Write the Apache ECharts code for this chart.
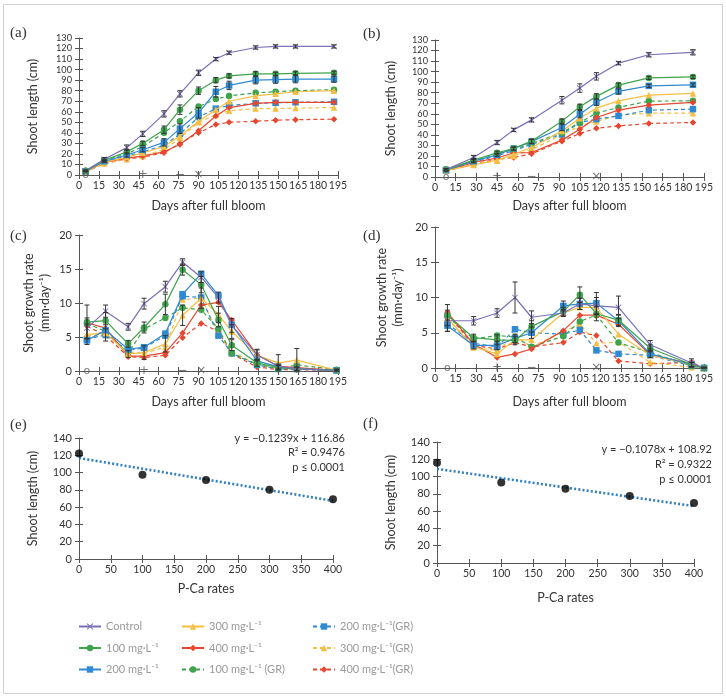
<!DOCTYPE html>
<html><head><meta charset="utf-8">
<script src="https://cdn.jsdelivr.net/npm/echarts@6/dist/echarts.min.js"></script>
<style>html,body{margin:0;padding:0;background:#fff}#c{width:726px;height:696px}</style>
</head><body><div id="c"></div>
<script>
// ---------- DATA ----------
const seriesNames = ['Control','100 mg·L⁻¹','200 mg·L⁻¹','300 mg·L⁻¹','400 mg·L⁻¹','100 mg·L⁻¹ (GR)','200 mg·L⁻¹(GR)','300 mg·L⁻¹(GR)','400 mg·L⁻¹(GR)'];
const xTicksDays = [0,195,15];
const xTicksRates = [0,400,50];

const daysA = [5,19,36,48,64,76,90,103,113,133,148,163,192];
const aControl = [4,15,26,39,58,77,97,110,116,121,122,122,122];
const a100 = [4,14,22,30,43,62,80,90,94,96,96,96.5,97];
const a200 = [3.5,13,19,24,31,44,59,79,85,90,90.5,91,91];
const a300 = [3,12,17,21,27,37,51,62,70,75,77,79,80];
const a400 = [3,12,16,18,22,29,42,56,64,68,69,69,69];
const a100GR = [4,14,20,27,40,51,65,72,75,78,79,80,81];
const a200GR = [3.5,13,18,22,28,39,55,63,66,68,68.5,69,69.5];
const a300GR = [3,11,15,18,24,35,50,57,61,63,63,63.5,64];
const a400GR = [3,11,15,17,21,30,40,48,50,51,52,52.5,53];
const aErrControl = [0.8,1.5,2.5,2.5,3,3,2.5,1.5,1.5,1.5,1.5,1.5,1.5];
const aErr100 = [0.5,1,2,2,3.5,4.5,3.5,2.5,2,2,1.5,1.5,1.5];
const aErr200 = [0.5,1,2,2,3.5,4.5,5,5,4,3.5,3.5,3.5,3];

const daysB = [8,28,45,57,70,92,105,117,133,155,187];
const bControl = [7,18.5,32.7,44.7,54.2,72.9,84.4,95.5,108,116,118.3];
const b100 = [7,16,23,27,34,53,66.6,76.5,87.2,94,95];
const b200 = [6.5,15,21,27,33.6,47,59.6,71,81.2,86.5,87.5];
const b300 = [6,11.5,16,21.6,28,43.7,55.8,65.3,72.3,77.7,79.3];
const b400 = [6,13.8,18,23,23.2,35,45.4,56.5,63.4,68.2,70.8];
const b100GR = [7,15,22,26,32,42,51.7,60.6,66,72,72.3];
const b200GR = [6.5,14,20,25,31,40.5,51.7,54.9,58,63.4,64.4];
const b300GR = [6,12,15.5,20,26,40,48.5,52.7,58.6,60.6,60.6];
const b400GR = [6,12,17,18.5,22,34,41.3,46.3,48.5,50.8,51.7];
const bErrControl = [1,2,2,1.5,2,3.5,4,3.5,1.5,2,2.5];
const bErr100 = [1,1.5,1.5,1.5,2,2,2.5,2.5,2,1.5,1.5];
const bErr200 = [1,1.5,1.5,1.5,2,3,3.5,3,2.5,1.5,1.5];

const daysC = [6,20,37,49,65,78,92,105,115,134,150,164,194];
const cControl = [6.3,8.8,6.5,9.9,12.4,16.0,13.8,10.8,6.7,2.4,0.7,0.3,0.1];
const c100 = [7.2,7.4,4.0,6.4,9.8,14.9,12.7,7.5,3.8,1.2,0.5,0.3,0.1];
const c200 = [4.5,6.0,3.2,3.5,5.5,11.3,14.3,11.1,6.8,1.5,0.6,0.3,0.1];
const c300 = [5.4,5.6,2.5,2.7,4.0,8.2,10.7,8.3,5.8,2.3,1.2,1.6,0.1];
const c400 = [7.1,6.3,2.2,2.2,2.7,5.6,9.7,10.1,7.5,2.4,0.7,0.5,0.1];
const c100GR = [7.0,5.8,2.6,6.2,7.8,9.3,9.0,6.2,2.6,1.0,0.3,0.9,0.2];
const c200GR = [4.7,5.3,3.0,3.4,5.2,11.0,10.8,5.2,2.6,0.9,0.3,0.3,0.1];
const c300GR = [5.2,5.4,2.8,2.6,3.5,10.5,10.7,5.5,2.8,1.0,0.4,0.3,0.1];
const c400GR = [6.6,5.2,2.1,2.0,2.3,4.9,7.0,5.8,2.5,0.6,0.2,0.2,0.1];
const cErrControl = [1.5,0.9,0.5,0.8,0.8,0.5,0.8,0.8,1,0.8,0.3,0.2,0.1];
const cErr100 = [2.5,1.2,0.5,0.8,1.5,0.8,1.2,1.0,0.8,0.5,0.3,0.3,0.1];
const cErr300 = [1.5,1.2,0.5,1,1.2,1.5,1.5,1.2,1.0,0.8,1.2,1.7,0.2];

const daysD = [9,28,45,58,70,93,105,117,133,156,186,195];
const dControl = [6.7,6.7,7.8,10.0,7.2,7.8,9.1,8.8,8.6,3.3,0.7,0];
const d100 = [7.5,4.3,4.0,3.9,5.9,8.0,10.4,7.7,6.8,2.8,0.5,0];
const d200 = [6.0,3.2,3.2,4.2,5.0,8.8,9.1,9.2,6.7,2.0,0.5,0];
const d300 = [7.1,3.0,2.0,4.0,4.0,7.8,8.6,8.6,4.8,1.8,0.5,0];
const d400 = [7.9,3.4,1.5,2.0,2.7,5.3,7.5,7.5,6.2,1.9,0.6,0];
const d100GR = [7.3,4.1,4.6,4.4,3.0,4.5,6.6,7.5,3.6,2.2,0.3,0];
const d200GR = [6.3,3.5,3.0,5.5,5.0,4.8,5.4,2.5,2.0,1.8,0.3,0];
const d300GR = [7.0,2.9,2.5,4.5,3.0,5.2,6.2,3.5,3.7,0.8,0.1,0];
const d400GR = [7.7,3.2,2.7,3.6,3.0,3.6,5.1,4.6,1.0,0.6,0.8,0];
const dErrControl = [1.5,0.6,0.6,2.2,0.9,0.5,0.8,1.2,1.6,0.6,0.6,0.1];
const dErr100 = [1.5,0.5,0.7,0.6,0.8,0.6,1.1,1.0,0.8,0.5,0.3,0.1];
const dErr200 = [0.8,0.5,0.6,0.6,0.8,0.7,0.8,1.5,0.8,0.5,0.3,0.1];

const sigMarks = ['o','+','−','×'];
const sigA = [5,48,76,90];
const sigB = [8,45,70,117];
const sigC = [6,49,78,92];
const sigD = [9,45,70,117];

const ratesE = [0,100,200,300,400];
const lengthE = [122,97.5,91.5,80,69];
const trendE = {slope:-0.1239, intercept:116.86, r2:'0.9476', p:'0.0001'};
const ratesF = [0,100,200,300,400];
const lengthF = [116,93,86,77.5,69.5];
const trendF = {slope:-0.1078, intercept:108.92, r2:'0.9322', p:'0.0001'};

// ---------- STYLE ----------
const F = 'Lato';
const colors = ['#7b70b6','#3ea34c','#2f8ad1','#f5bf45','#e6472f','#3ea34c','#2f8ad1','#f5bf45','#e6472f'];
const xSym = 'path://M1,0 L5,4 L9,0 L10,1 L6,5 L10,9 L9,10 L5,6 L1,10 L0,9 L4,5 L0,1 Z';
const symbols = [xSym,'circle','rect','triangle','diamond','circle','rect','triangle','diamond'];
const dashed = [false,false,false,false,false,true,true,true,true];

const grids = [
  {left:79, top:38, width:259, height:137},
  {left:435, top:40, width:269, height:137},
  {left:79, top:235, width:259, height:136},
  {left:435, top:227, width:269, height:141},
  {left:79, top:438, width:254, height:121},
  {left:437, top:442, width:257, height:121}
];
const xAxes = [], yAxes = [];
const lineC = '#555';
function addAxes(gi, xr, yr, xname, xgap, yname, ygap, yfs){
  const lab = {color:'#333', fontFamily:F, hideOverlap:false, showMinLabel:true, showMaxLabel:true};
  xAxes.push({gridIndex:gi, type:'value', position:'bottom', min:xr[0], max:xr[1], interval:xr[2],
    name:xname, nameLocation:'middle', nameGap:xgap, nameTextStyle:{fontSize:12.5, color:'#333', fontFamily:F},
    splitLine:{show:false}, axisLine:{show:true, onZero:false, lineStyle:{color:lineC}},
    axisTick:{show:true, length:4, lineStyle:{color:lineC}}, axisLabel:Object.assign({margin:5, fontSize:10.5}, lab)});
  xAxes.push({gridIndex:gi, type:'value', position:'bottom', min:xr[0], max:xr[1], interval:xr[2],
    splitLine:{show:false}, axisLine:{show:false}, axisTick:{show:true, inside:true, length:4, lineStyle:{color:lineC}}, axisLabel:{show:false}});
  yAxes.push({gridIndex:gi, type:'value', position:'left', min:yr[0], max:yr[1], interval:yr[2],
    name:yname, nameLocation:'middle', nameGap:ygap, nameTextStyle:{fontSize:12.5, color:'#333', fontFamily:F, lineHeight:16},
    splitLine:{show:false}, axisLine:{show:true, lineStyle:{color:lineC}},
    axisTick:{show:true, length:4, lineStyle:{color:lineC}}, axisLabel:Object.assign({margin:7, fontSize:yfs, lineHeight:8}, lab)});
  yAxes.push({gridIndex:gi, type:'value', position:'left', min:yr[0], max:yr[1], interval:yr[2],
    splitLine:{show:false}, axisLine:{show:false}, axisTick:{show:true, inside:true, length:4, lineStyle:{color:lineC}}, axisLabel:{show:false}});
}
addAxes(0, xTicksDays, [0,130,10], 'Days after full bloom', 24, 'Shoot length (cm)', 38, 9.2);
addAxes(1, xTicksDays, [0,130,10], 'Days after full bloom', 22, 'Shoot length (cm)', 36, 9.2);
addAxes(2, xTicksDays, [0,20,5], 'Days after full bloom', 24, 'Shoot growth rate\n(mm·day⁻¹)', 26, 11);
addAxes(3, xTicksDays, [0,20,5], 'Days after full bloom', 27, 'Shoot growth rate\n(mm·day⁻¹)', 29, 11);
addAxes(4, xTicksRates, [0,140,20], 'P-Ca rates', 23, 'Shoot length (cm)', 38, 11);
addAxes(5, xTicksRates, [0,140,20], 'P-Ca rates', 28, 'Shoot length (cm)', 38, 11);

const series = [];
function errRender(params, api){
  const x = api.value(0), y = api.value(1), e = api.value(2);
  const p1 = api.coord([x, y + e]), p2 = api.coord([x, Math.max(0, y - e)]);
  const w = 2.5, st = {stroke:'#333', lineWidth:1};
  return {type:'group', children:[
    {type:'line', shape:{x1:p1[0], y1:p1[1], x2:p2[0], y2:p2[1]}, style:st},
    {type:'line', shape:{x1:p1[0]-w, y1:p1[1], x2:p1[0]+w, y2:p1[1]}, style:st},
    {type:'line', shape:{x1:p2[0]-w, y1:p2[1], x2:p2[0]+w, y2:p2[1]}, style:st}
  ]};
}
function addPanel(gi, days, sets, errs, sig){
  sets.forEach((vals, k) => {
    series.push({name:seriesNames[k], type:'line', xAxisIndex:2*gi, yAxisIndex:2*gi,
      data: days.map((d,i) => [d, vals[i]]), symbol:symbols[k], symbolSize: k===0 ? 6 : 6.5,
      lineStyle:{width:1.2, type: dashed[k] ? [4,3] : 'solid', color:colors[k]},
      itemStyle:{color:colors[k]}, z: 3 + (8-k)*0.01, animation:false});
  });
  Object.keys(errs).forEach(k => {
    const vals = sets[k], e = errs[k];
    series.push({name:seriesNames[k], type:'custom', xAxisIndex:2*gi, yAxisIndex:2*gi,
      renderItem:errRender, encode:{x:0, y:1}, z:4, animation:false,
      data: days.map((d,i) => [d, vals[i], e[i]])});
  });
  series.push({type:'scatter', xAxisIndex:2*gi, yAxisIndex:2*gi, symbolSize:1, z:6,
    itemStyle:{color:'transparent'}, silent:true, animation:false,
    data: sig.map((d,i) => ({value:[d,0], label:{show:true, position:'inside', formatter:sigMarks[i],
      fontSize: i===0 ? 11 : 12, color:'#555', fontFamily:'DejaVu Sans'}}))});
}
addPanel(0, daysA, [aControl,a100,a200,a300,a400,a100GR,a200GR,a300GR,a400GR], {0:aErrControl,1:aErr100,2:aErr200}, sigA);
addPanel(1, daysB, [bControl,b100,b200,b300,b400,b100GR,b200GR,b300GR,b400GR], {0:bErrControl,1:bErr100,2:bErr200}, sigB);
addPanel(2, daysC, [cControl,c100,c200,c300,c400,c100GR,c200GR,c300GR,c400GR], {0:cErrControl,1:cErr100,3:cErr300}, sigC);
addPanel(3, daysD, [dControl,d100,d200,d300,d400,d100GR,d200GR,d300GR,d400GR], {0:dErrControl,1:dErr100,2:dErr200}, sigD);

function addReg(gi, rates, lens, tr){
  const x0 = rates[0], x1 = rates[rates.length-1];
  series.push({type:'line', xAxisIndex:2*gi, yAxisIndex:2*gi, symbol:'none', z:2, animation:false,
    data:[[x0, tr.slope*x0 + tr.intercept],[x1, tr.slope*x1 + tr.intercept]],
    lineStyle:{type:[2,2.2], width:2.6, color:'#2f7fc1'}});
  series.push({type:'scatter', xAxisIndex:2*gi, yAxisIndex:2*gi, symbol:'circle', symbolSize:8, z:3, animation:false,
    itemStyle:{color:'#000'}, data: rates.map((r,i) => [r, lens[i]])});
}
addReg(4, ratesE, lengthE, trendE);
addReg(5, ratesF, lengthF, trendF);

function regText(tr, x, y0, dy){
  const s = tr.slope.toFixed(4).replace('-', '−');
  const lines = ['y = ' + s + 'x + ' + tr.intercept.toFixed(2), 'R² = ' + tr.r2, 'p ≤ ' + tr.p];
  return lines.map((t,i) => ({type:'text', style:{text:t, x:x, y:y0 + i*dy, align:'right', verticalAlign:'middle',
    textAlign:'right', textVerticalAlign:'middle', font:'11px Lato', fill:'#333'}}));
}
function panelLabel(t, x, y){
  return {type:'text', style:{text:t, x:x, y:y, verticalAlign:'middle', textVerticalAlign:'middle',
    font:'15px "Liberation Serif"', fill:'#333'}};
}
const graphic = [
  {type:'rect', shape:{x:3.5, y:4.5, width:719, height:689}, style:{fill:'none', stroke:'#cfcfcf', lineWidth:1}, silent:true},
  panelLabel('(a)', 10, 33), panelLabel('(b)', 363, 34), panelLabel('(c)', 10, 236),
  panelLabel('(d)', 363, 236), panelLabel('(e)', 10, 425), panelLabel('(f)', 363, 424)
].concat(regText(trendE, 345, 438, 14.5)).concat(regText(trendF, 712, 449, 15));

const legBase = {orient:'vertical', top:621, padding:0, itemGap:10.5, itemWidth:22, itemHeight:8,
  textStyle:{color:'#9a9a9a', fontSize:11, fontFamily:F}, selectedMode:false};
const legend = [
  Object.assign({left:78, data:seriesNames.slice(0,3)}, legBase),
  Object.assign({left:181, data:seriesNames.slice(3,6)}, legBase),
  Object.assign({left:312, data:seriesNames.slice(6,9)}, legBase)
];

const chart = echarts.init(document.getElementById('c'), null, {renderer:'canvas'});
chart.setOption({backgroundColor:'#fff', animation:false, grid:grids, xAxis:xAxes, yAxis:yAxes,
  series:series, legend:legend, graphic:graphic});
</script></body></html>
